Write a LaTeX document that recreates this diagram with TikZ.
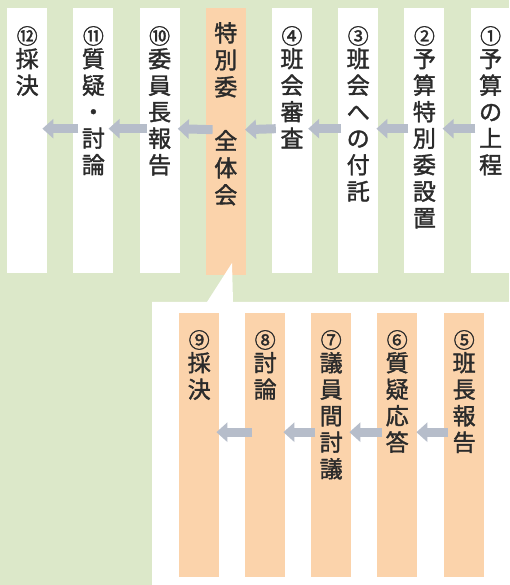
\documentclass[tikz,border=0pt]{standalone}
\usepackage{fontspec}
\newfontfamily\cjk[FakeBold=1.6]{Noto Sans CJK JP}
\usetikzlibrary{arrows.meta}
\definecolor{bggreen}{HTML}{DCE8C9}
\definecolor{colorange}{HTML}{FBD3AB}
\definecolor{arrowgray}{HTML}{B6BDCA}
\definecolor{txt}{HTML}{2B2B2B}
\newcommand\cnum[1]{{\fontsize{21}{26.5}\selectfont #1}\\[-3pt]}
\begin{document}
\begin{tikzpicture}[x=1pt,y=1pt,
  colbox/.style={draw=none,minimum width=40pt,inner sep=0pt,anchor=north west},
  toprow/.style={colbox,minimum height=265pt,fill=white},
  botrow/.style={colbox,minimum height=264pt,fill=colorange},
  vlabel/.style={anchor=north,inner sep=0pt,align=center,text=txt,
    font=\cjk\fontsize{23}{26.5}\selectfont},
  flow/.style={draw=arrowgray,line width=9pt,-{Triangle[width=19pt,length=11pt]}}]
\useasboundingbox (0,0) rectangle (509,585);
\fill[bggreen] (0,0) rectangle (509,585);
% top row columns
\node[toprow] (c12) at (7,577) {};
\node[toprow] (c11) at (73.2,577) {};
\node[toprow] (c10) at (139.4,577) {};
\node[toprow,fill=colorange,minimum height=267pt] (ctok) at (205.6,577) {};
\node[toprow] (c4) at (271.8,577) {};
\node[toprow] (c3) at (338,577) {};
\node[toprow] (c2) at (404.2,577) {};
\node[toprow] (c1) at (470.4,577) {};
% callout
\fill[white] (152,0) -- (152,283) -- (207,283) -- (232,322) -- (233,283) -- (509,283) -- (509,0) -- cycle;
% bottom row columns
\node[botrow] (c9) at (179,272) {};
\node[botrow] (c8) at (245,272) {};
\node[botrow] (c7) at (311,272) {};
\node[botrow] (c6) at (377,272) {};
\node[botrow] (c5) at (444,272) {};
% labels top row
\node[vlabel] (t12) at ([yshift=-18pt]c12.north) {\cnum{⑫}採\\決};
\node[vlabel] (t11) at ([yshift=-18pt]c11.north) {\cnum{⑪}質\\疑\\・\\討\\論};
\node[vlabel] (t10) at ([yshift=-18pt]c10.north) {\cnum{⑩}委\\員\\長\\報\\告};
\node[vlabel,font=\cjk\fontsize{23}{27}\selectfont] (ttok) at ([yshift=-14pt]ctok.north) {特\\別\\委\\\mbox{}\\全\\体\\会};
\node[vlabel] (t4) at ([yshift=-18pt]c4.north) {\cnum{④}班\\会\\審\\査};
\node[vlabel] (t3) at ([yshift=-18pt]c3.north) {\cnum{③}班\\会\\へ\\の\\付\\託};
\node[vlabel] (t2) at ([yshift=-18pt]c2.north) {\cnum{②}予\\算\\特\\別\\委\\設\\置};
\node[vlabel] (t1) at ([yshift=-18pt]c1.north) {\cnum{①}予\\算\\の\\上\\程};
% labels bottom row
\node[vlabel] (t9) at ([yshift=-17pt]c9.north) {\cnum{⑨}採\\決};
\node[vlabel] (t8) at ([yshift=-17pt]c8.north) {\cnum{⑧}討\\論};
\node[vlabel] (t7) at ([yshift=-17pt]c7.north) {\cnum{⑦}議\\員\\間\\討\\議};
\node[vlabel] (t6) at ([yshift=-17pt]c6.north) {\cnum{⑥}質\\疑\\応\\答};
\node[vlabel] (t5) at ([yshift=-17pt]c5.north) {\cnum{⑤}班\\長\\報\\告};
% arrows top row
\draw[flow] ([xshift=5pt,yshift=12pt]c1.west) -- ([xshift=-2pt,yshift=12pt]c2.east);
\draw[flow] ([xshift=4pt,yshift=12pt]c2.west) -- ([xshift=-2pt,yshift=12pt]c3.east);
\draw[flow] ([xshift=3pt,yshift=12pt]c3.west) -- ([xshift=-4pt,yshift=12pt]c4.east);
\draw[flow] ([xshift=4pt,yshift=12pt]c4.west) -- ([xshift=-1pt,yshift=12pt]ctok.east);
\draw[flow] ([xshift=7pt,yshift=12pt]ctok.west) -- ([xshift=-2pt,yshift=12pt]c10.east);
\draw[flow] ([xshift=8pt,yshift=12pt]c10.west) -- ([xshift=-5pt,yshift=12pt]c11.east);
\draw[flow] ([xshift=5pt,yshift=12pt]c11.west) -- ([xshift=-5pt,yshift=12pt]c12.east);
% arrows bottom row
\draw[flow] ([xshift=4pt,yshift=13pt]c5.west) -- ([xshift=-1pt,yshift=13pt]c6.east);
\draw[flow] ([xshift=5pt,yshift=13pt]c6.west) -- ([xshift=-2pt,yshift=13pt]c7.east);
\draw[flow] ([xshift=4pt,yshift=13pt]c7.west) -- ([xshift=-2pt,yshift=13pt]c8.east);
\draw[flow] ([xshift=7pt,yshift=13pt]c8.west) -- ([xshift=-3pt,yshift=13pt]c9.east);
\end{tikzpicture}
\end{document}
